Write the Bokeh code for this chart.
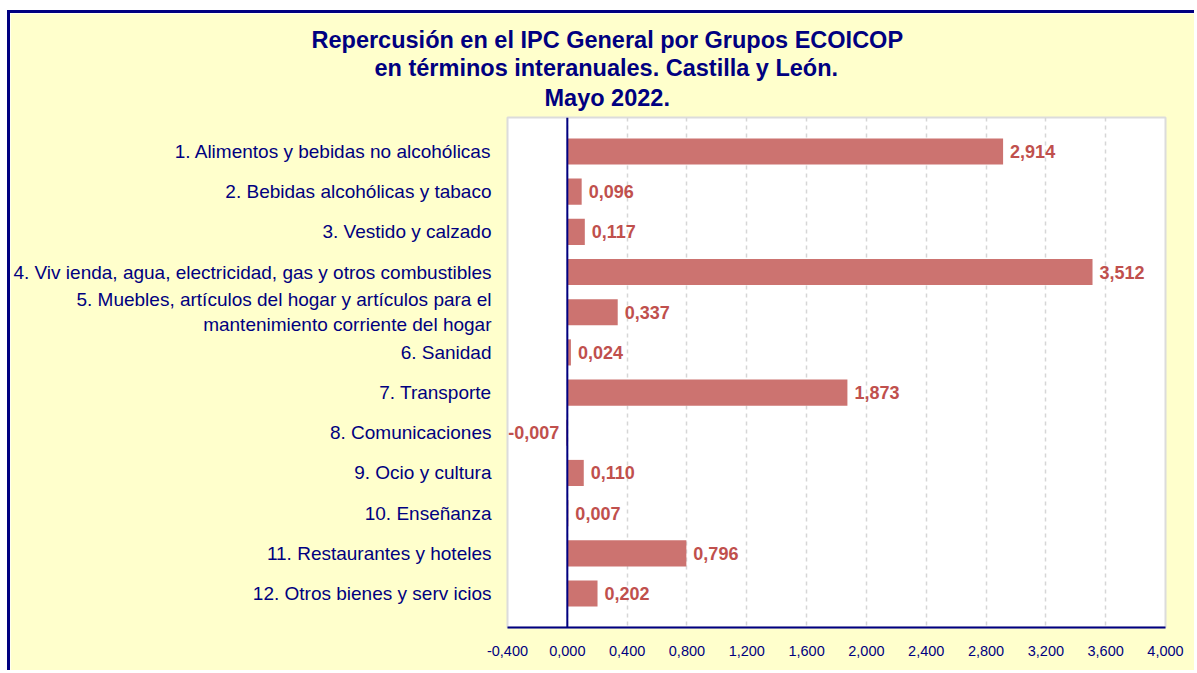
from bokeh.plotting import figure
from bokeh.models import Range1d, FixedTicker, Title, ColumnDataSource, Span
from bokeh.core.properties import value
from bokeh.embed import file_html
from bokeh.resources import INLINE

# ---- data ----
categories = [
    "1. Alimentos y bebidas no alcohólicas",
    "2. Bebidas alcohólicas y tabaco",
    "3. Vestido y calzado",
    "4. Viv ienda, agua, electricidad, gas y otros combustibles",
    "5. Muebles, artículos del hogar y artículos para el\nmantenimiento corriente del hogar",
    "6. Sanidad",
    "7. Transporte",
    "8. Comunicaciones",
    "9. Ocio y cultura",
    "10. Enseñanza",
    "11. Restaurantes y hoteles",
    "12. Otros bienes y serv icios",
]
values = [2.914, 0.096, 0.117, 3.512, 0.337, 0.024, 1.873, -0.007, 0.110, 0.007, 0.796, 0.202]
x_ticks = [-0.4, 0.0, 0.4, 0.8, 1.2, 1.6, 2.0, 2.4, 2.8, 3.2, 3.6, 4.0]
x_tick_labels = ["-0,400", "0,000", "0,400", "0,800", "1,200", "1,600", "2,000",
                 "2,400", "2,800", "3,200", "3,600", "4,000"]
title_lines = [
    "Repercusión en el IPC General por Grupos ECOICOP",
    "en términos interanuales. Castilla y León.",
    "Mayo 2022.",
]

NAVY = "#000080"
BAR = "#CC7370"
LAB = "#C0504D"
FONT = "Liberation Sans"

pos = list(range(len(categories)))
labels = [("%.3f" % v).replace(".", ",") for v in values]
aligns = ["left" if v >= 0 else "right" for v in values]
xoffs = [7 if v >= 0 else -7 for v in values]
src = ColumnDataSource(dict(pos=pos, val=values, lab=labels, align=aligns, xoff=xoffs))

W, H = 1187, 660
p = figure(width=W, height=H, output_backend="svg", toolbar_location=None,
           x_range=Range1d(x_ticks[0], x_ticks[-1]),
           y_range=Range1d(11.846, -0.846),
           min_border_left=495, min_border_right=32, min_border_top=104, min_border_bottom=46)
p.styles = {"border-left": "3px solid " + NAVY, "border-top": "3px solid " + NAVY,
            "margin-left": "7px", "margin-top": "10px"}

p.background_fill_color = "white"
p.border_fill_color = "#FFFFCC"
p.outline_line_color = "#DCDCDC"
p.outline_line_width = 2

p.hbar(y="pos", left=0, right="val", height=0.65, source=src,
       fill_color=BAR, line_color=None)
p.text(x="val", y="pos", text="lab", source=src, x_offset="xoff",
       text_align="align", text_baseline="middle",
       text_font=value(FONT), text_font_style="bold", text_font_size="18px",
       text_color=LAB)

p.add_layout(Span(location=0, dimension="height", line_color=NAVY, line_width=2))

# x axis
xa = p.xaxis[0]
xa.ticker = FixedTicker(ticks=x_ticks)
xa.major_label_overrides = {t: l for t, l in zip(x_ticks, x_tick_labels)}
xa.axis_line_color = NAVY
xa.axis_line_width = 2
xa.major_tick_line_color = None
xa.minor_tick_line_color = None
xa.major_label_standoff = 12
xa.major_label_text_font = FONT
xa.major_label_text_font_size = "14.5px"
xa.major_label_text_color = NAVY

# y axis
ya = p.yaxis[0]
ya.ticker = FixedTicker(ticks=pos)
ya.major_label_overrides = {i: c for i, c in zip(pos, categories)}
ya.axis_line_color = None
ya.major_tick_line_color = None
ya.minor_tick_line_color = None
ya.major_tick_out = 0
ya.major_tick_in = 0
ya.major_label_standoff = 16
ya.major_label_text_font = FONT
ya.major_label_text_font_size = "19px"
ya.major_label_text_color = NAVY

p.ygrid.grid_line_color = None
p.xgrid.ticker = FixedTicker(ticks=x_ticks)
p.xgrid.grid_line_color = "#D6D6D6"
p.xgrid.grid_line_dash = "4 4"
p.xgrid.grid_line_width = 1.5

# small blank spacer between the frame and the title block
p.add_layout(Title(text="\u00a0", text_font_size="3px", standoff=0,
                   text_color="#FFFFCC"), "above")

# titles stacked above the frame (first added is nearest the frame);
# left-aligned with offsets (relative to frame left) so they centre near x=606
title_offsets = [-196, -133, 37]
title_standoffs = [0, 0, 4]
for t, off, so in reversed(list(zip(title_lines, title_offsets, title_standoffs))):
    p.add_layout(Title(text=t, align="left", offset=off, standoff=so,
                       text_font=FONT, text_font_style="bold", text_font_size="23.5px",
                       text_color=NAVY), "above")

open("out.html", "w").write(file_html(p, INLINE))
